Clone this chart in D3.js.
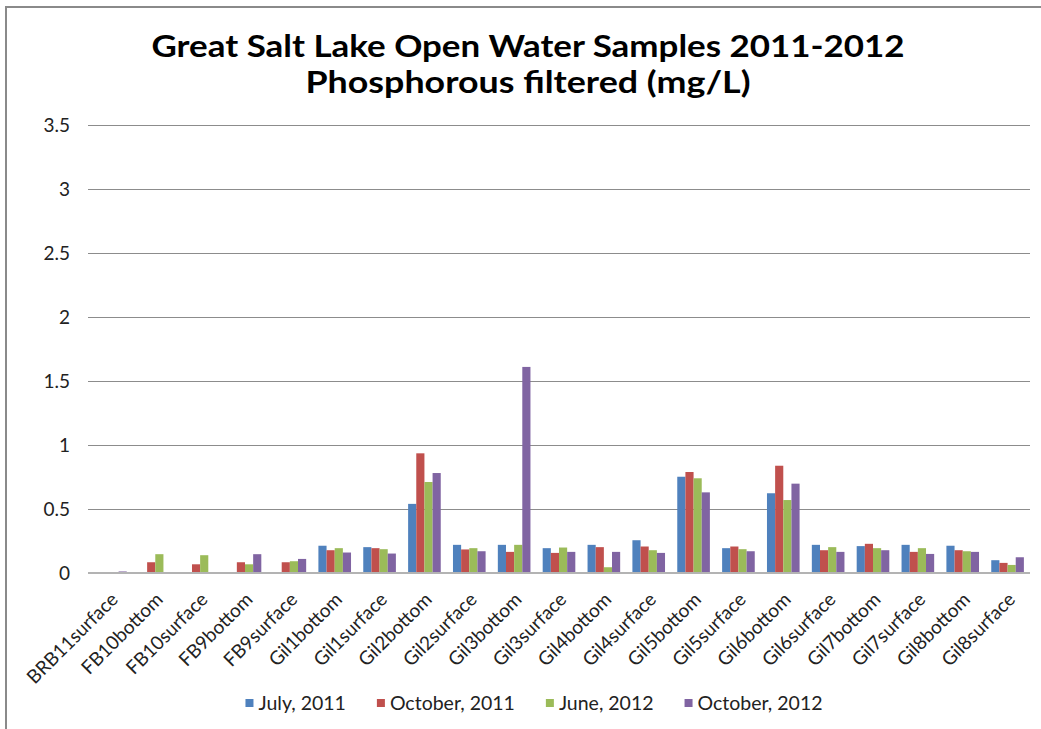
<!DOCTYPE html>
<html>
<head>
<meta charset="utf-8">
<script src="https://cdn.jsdelivr.net/npm/d3@7"></script>
<style>
  body { margin: 0; background: #fff; }
  svg { display: block; font-family: Lato, "Open Sans", sans-serif; }
</style>
</head>
<body>
<div id="chart"></div>
<script>
const categories = ["BRB11surface", "FB10bottom", "FB10surface", "FB9bottom", "FB9surface",
    "Gil1bottom", "Gil1surface", "Gil2bottom", "Gil2surface", "Gil3bottom", "Gil3surface",
    "Gil4bottom", "Gil4surface", "Gil5bottom", "Gil5surface", "Gil6bottom", "Gil6surface",
    "Gil7bottom", "Gil7surface", "Gil8bottom", "Gil8surface"];
const seriesNames = ["July, 2011", "October, 2011", "June, 2012", "October, 2012"];
const july2011 = [null, null, null, null, null, 0.213, 0.202, 0.54, 0.22, 0.22, 0.194,
    0.22, 0.256, 0.752, 0.194, 0.623, 0.22, 0.21, 0.22, 0.213, 0.1];
const october2011 = [null, 0.084, 0.068, 0.084, 0.084, 0.178, 0.194, 0.935, 0.184, 0.165, 0.157,
    0.202, 0.207, 0.789, 0.207, 0.838, 0.178, 0.228, 0.165, 0.178, 0.079];
const june2012 = [null, 0.147, 0.139, 0.068, 0.092, 0.194, 0.186, 0.711, 0.194, 0.22, 0.199,
    0.045, 0.178, 0.74, 0.186, 0.57, 0.202, 0.194, 0.194, 0.17, 0.063];
const october2012 = [0.012, null, null, 0.147, 0.11, 0.16, 0.152, 0.781, 0.17, 1.61, 0.165,
    0.165, 0.157, 0.63, 0.17, 0.698, 0.165, 0.178, 0.149, 0.165, 0.123];
const yTicks = [0, 0.5, 1, 1.5, 2, 2.5, 3, 3.5];
const titleLines = ["Great Salt Lake Open Water Samples 2011-2012", "Phosphorous filtered (mg/L)"];

const colors = ["#4F81BD", "#C0504D", "#9BBB59", "#8064A2"];
const seriesValues = [july2011, october2011, june2012, october2012];

const width = 1041, height = 729;
const plot = { left: 88, right: 1030, top: 125, bottom: 573 };
const labelSize = 19;

const svg = d3.select("#chart").append("svg")
    .attr("width", width)
    .attr("height", height);

svg.append("rect")
    .attr("x", 6).attr("y", 7)
    .attr("width", 1100).attr("height", 800)
    .attr("fill", "#fff")
    .attr("stroke", "#8a8a8a")
    .attr("stroke-width", 2);

// title
const titleWidths = [753, 445];
svg.selectAll(".title")
    .data(titleLines)
    .join("text")
    .attr("class", "title")
    .attr("x", 528)
    .attr("y", (d, i) => 57 + i * 36)
    .attr("text-anchor", "middle")
    .attr("font-size", 31)
    .attr("font-weight", "bold")
    .attr("textLength", (d, i) => titleWidths[i])
    .attr("lengthAdjust", "spacingAndGlyphs")
    .attr("fill", "#000")
    .text(d => d);

const y = d3.scaleLinear().domain([0, 3.5]).range([plot.bottom, plot.top]);
const x0 = d3.scaleBand().domain(categories)
    .range([plot.left, plot.right])
    .paddingInner(1.5 / 5.5)
    .paddingOuter(0.75 / 5.5);
const x1 = d3.scaleBand().domain(seriesNames).range([0, x0.bandwidth()]);

// gridlines
svg.append("g")
    .selectAll("line")
    .data(yTicks.filter(t => t > 0))
    .join("line")
    .attr("x1", plot.left).attr("x2", plot.right)
    .attr("y1", d => Math.round(y(d)) + 0.5).attr("y2", d => Math.round(y(d)) + 0.5)
    .attr("stroke", "#8c8c8c")
    .attr("stroke-width", 1);

// y axis labels
const yAxis = d3.axisLeft(y).tickValues(yTicks).tickSize(0).tickPadding(0)
    .tickFormat(d => d3.format("")(d));
const yg = svg.append("g").attr("transform", `translate(70,0)`).call(yAxis);
yg.select(".domain").remove();
yg.selectAll("text").attr("font-size", labelSize).attr("font-family", "Lato, sans-serif").attr("fill", "#222");

// bars
const rows = categories.map((c, i) => ({ cat: c, vals: seriesValues.map((s, k) => ({ key: seriesNames[k], v: s[i], k })) }));
svg.append("g")
    .selectAll("g")
    .data(rows)
    .join("g")
    .attr("transform", d => `translate(${x0(d.cat)},0)`)
    .selectAll("rect")
    .data(d => d.vals.filter(v => v.v != null))
    .join("rect")
    .attr("x", d => x1(d.key))
    .attr("width", x1.bandwidth())
    .attr("y", d => y(d.v))
    .attr("height", d => y(0) - y(d.v))
    .attr("fill", d => colors[d.k]);

// category axis
svg.append("line")
    .attr("x1", plot.left).attr("x2", plot.right)
    .attr("y1", plot.bottom).attr("y2", plot.bottom)
    .attr("stroke", "#b3b3b3")
    .attr("stroke-width", 2);

svg.append("g")
    .selectAll("text")
    .data(categories)
    .join("text")
    .attr("transform", d => `translate(${x0(d) + x0.bandwidth() / 2 + 4},${plot.bottom + 23}) rotate(-45)`)
    .attr("text-anchor", "end")
    .attr("dy", "0.35em")
    .attr("font-size", labelSize)
    .attr("fill", "#222")
    .text(d => d);

// legend
const legend = svg.append("g");
const items = legend.selectAll("g")
    .data(seriesNames)
    .join("g");
items.append("rect")
    .attr("width", 8).attr("height", 8)
    .attr("y", -4)
    .attr("fill", (d, i) => colors[i]);
items.append("text")
    .attr("x", 13)
    .attr("dy", "0.35em")
    .attr("font-size", labelSize + 0.5)
    .attr("fill", "#222")
    .text(d => d);
let cursor = 0;
const gap = 31;
items.each(function () {
    const w = 13 + d3.select(this).select("text").node().getComputedTextLength();
    d3.select(this).attr("data-x", cursor);
    cursor += w + gap;
});
const total = cursor - gap;
const startX = 534 - total / 2;
items.attr("transform", function () {
    return `translate(${startX + (+this.getAttribute("data-x"))},703)`;
});
</script>
</body>
</html>
